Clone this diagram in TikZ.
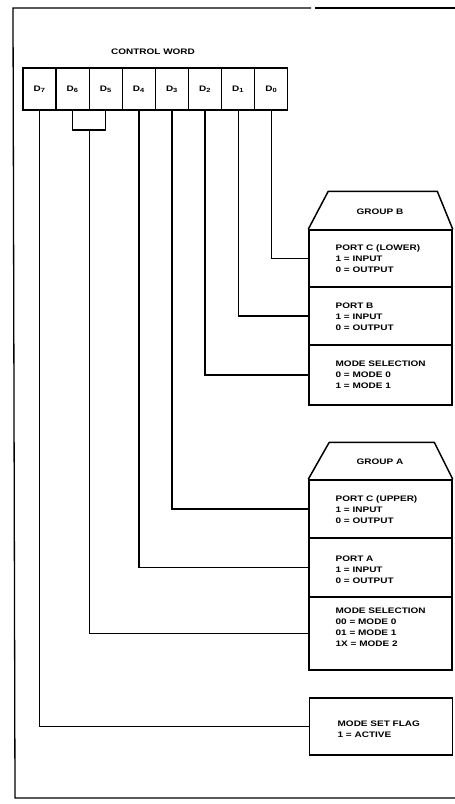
\documentclass[tikz,border=0pt]{standalone}
\usepackage{fontspec}
\newfontfamily\lab[FakeStretch=1.25]{Liberation Sans}
\begin{document}
\begin{tikzpicture}[x=1pt,y=-1pt,line width=1.3pt,
  txt/.style={font=\lab\bfseries\fontsize{8}{11}\selectfont,inner sep=0pt,align=left},
  cell/.style={draw,minimum width=33.1pt,minimum height=42pt,inner sep=0pt,font=\lab\bfseries\fontsize{8}{10}\selectfont},
  sect/.style={draw,line width=1.5pt,minimum width=143pt,inner sep=0pt},
  roof/.style={line width=1.5pt,line join=round},
  wire/.style={line width=1.3pt}]
\useasboundingbox (0,0) rectangle (455,804);
% frame
\draw (455,8) -- (315,8);
\draw (311,8) -- (13,8) -- (15,798) -- (455,798);
% title
\node[txt] (title) at (153,52) {CONTROL WORD};
% cells
\node[cell] (b7) at (39.55,89)  {D\textsubscript{7}};
\node[cell] (b6) at (72.65,89)  {D\textsubscript{6}};
\node[cell] (b5) at (105.75,89) {D\textsubscript{5}};
\node[cell] (b4) at (138.85,89) {D\textsubscript{4}};
\node[cell] (b3) at (171.95,89) {D\textsubscript{3}};
\node[cell] (b2) at (205.05,89) {D\textsubscript{2}};
\node[cell] (b1) at (238.15,89) {D\textsubscript{1}};
\node[cell] (b0) at (271.25,89) {D\textsubscript{0}};
% group B
\node[sect,minimum height=57pt] (pcl) at (380.5,258.5) {};
\node[sect,minimum height=58pt] (pb)  at (380.5,316) {};
\node[sect,minimum height=60pt] (msb) at (380.5,375) {};
\draw[roof] (pcl.north west) -- ++(20,-38) -- ++(109,0) -- (pcl.north east);
\node[txt] (gb) at (380,212) {GROUP B};
\node[txt,anchor=north west] (pclt) at (335,244) {PORT C (LOWER)\\1 = INPUT\\0 = OUTPUT};
\node[txt,anchor=north west] (pbt)  at (335,302) {PORT B\\1 = INPUT\\0 = OUTPUT};
\node[txt,anchor=north west] (msbt) at (335,360) {MODE SELECTION\\0 = MODE 0\\1 = MODE 1};
% group A
\node[sect,minimum height=58pt] (pcu) at (380.5,509) {};
\node[sect,minimum height=59pt] (pa)  at (380.5,567.5) {};
\node[sect,minimum height=73pt] (msa) at (380.5,633.5) {};
\draw[roof] (pcu.north west) -- ++(21,-37) -- ++(105,0) -- (pcu.north east);
\node[txt] (ga) at (380,462) {GROUP A};
\node[txt,anchor=north west] (pcut) at (335,495) {PORT C (UPPER)\\1 = INPUT\\0 = OUTPUT};
\node[txt,anchor=north west] (pat)  at (335,555) {PORT A\\1 = INPUT\\0 = OUTPUT};
\node[txt,anchor=north west] (msat) at (335,607) {MODE SELECTION\\00 = MODE 0\\01 = MODE 1\\1X = MODE 2};
% mode set flag
\node[sect,minimum height=57pt] (msf) at (381,726.5) {};
\node[txt,anchor=north west] (msft) at (337,720) {MODE SET FLAG\\1 = ACTIVE};
% connectors
\coordinate (j) at (89.2,130);
\draw[wire] (b6.south) |- (j) -| (b5.south);
\draw[wire] (b0.south) |- (pcl.west);
\draw[wire] (b1.south) |- (pb.west);
\draw[wire] (b2.south) |- (msb.west);
\draw[wire] (b3.south) |- (pcu.west);
\draw[wire] (b4.south) |- (pa.west);
\draw[wire] (j) |- (msa.west);
\draw[wire] (b7.south) |- (msf.west);
\end{tikzpicture}
\end{document}
